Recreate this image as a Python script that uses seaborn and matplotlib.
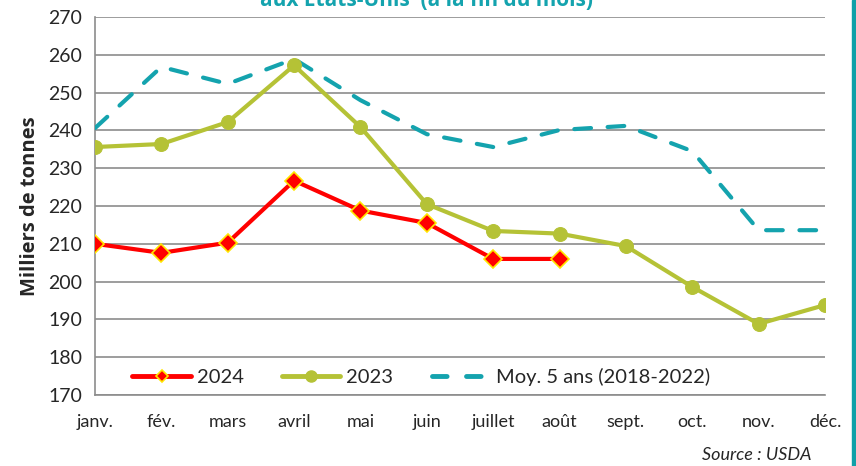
#!/usr/bin/env python3
"""Stocks fin de mois aux Etats-Unis: 2024 vs 2023 vs moyenne 5 ans."""

import pandas as pd
import numpy as np
import matplotlib
matplotlib.use('Agg')
import matplotlib.pyplot as plt
from matplotlib.lines import Line2D
import seaborn as sns

months = ['janv.', 'fév.', 'mars', 'avril', 'mai', 'juin',
          'juillet', 'août', 'sept.', 'oct.', 'nov.', 'déc.']
stocks_2024 = [210.0, 207.6, 210.3, 226.7, 218.8, 215.5, 206.0, 206.0]
stocks_2023 = [235.6, 236.4, 242.2, 257.2, 240.9, 220.5, 213.4, 212.7,
               209.4, 198.6, 188.8, 193.8]
moy_5ans = [240.6, 256.8, 252.3, 258.9, 248.0, 239.0, 235.6, 240.1,
            241.2, 234.5, 213.6, 213.6]

sns.set_style('white')
plt.rcParams['font.family'] = ['Lato', 'DejaVu Sans']

df24 = pd.DataFrame({'x': np.arange(len(stocks_2024)), 'y': stocks_2024})
df23 = pd.DataFrame({'x': np.arange(len(stocks_2023)), 'y': stocks_2023})
dfmoy = pd.DataFrame({'x': np.arange(len(moy_5ans)), 'y': moy_5ans})

fig = plt.figure(figsize=(8.56, 4.66), dpi=100)
ax = fig.add_axes([95 / 856, 1 - 395 / 466, 730 / 856, 378 / 466])

teal = '#14A3AE'
green = '#B5C236'
red = '#FF0000'
yellow = '#FFE600'

sns.lineplot(data=dfmoy, x='x', y='y', ax=ax, color=teal, lw=3, zorder=3)
ax.lines[-1].set_dashes([4, 4])
ax.lines[-1].set_dash_capstyle('round')
sns.lineplot(data=df23, x='x', y='y', ax=ax, color=green, lw=3,
             marker='o', markersize=10, markeredgecolor=green, zorder=4)
sns.lineplot(data=df24, x='x', y='y', ax=ax, color=red, lw=3,
             marker='D', markersize=9, markeredgecolor=yellow,
             markeredgewidth=1.2, zorder=5)

ax.set_xlim(0, 11)
ax.set_ylim(170, 270)
ax.set_yticks(range(170, 271, 10))
ax.set_xticks(range(12))
ax.set_xticklabels(months, fontsize=13)
ax.tick_params(axis='y', labelsize=14, length=5, color='#8C8C8C', pad=4)
ax.tick_params(axis='x', length=5, color='#8C8C8C', pad=9)
ax.yaxis.grid(True, color='#8C8C8C', lw=1.2)
ax.set_axisbelow(True)
for side in ['top', 'right']:
    ax.spines[side].set_visible(False)
for side in ['left', 'bottom']:
    ax.spines[side].set_color('#8C8C8C')
    ax.spines[side].set_linewidth(1.2)
ax.set_xlabel('')
ax.set_ylabel('Milliers de tonnes', fontsize=14.5, fontweight='bold',
              family=['Open Sans', 'DejaVu Sans'], labelpad=6)

handles = [
    Line2D([], [], color=red, lw=3.5, marker='D', markersize=6,
           markeredgecolor=yellow, markeredgewidth=1.2),
    Line2D([], [], color=green, lw=3.5, marker='o', markersize=8,
           markeredgecolor=green),
    Line2D([], [], color=teal, lw=3.5, dashes=[3, 4],
           dash_capstyle='round'),
]
ax.legend(handles, ['2024', '2023', 'Moy. 5 ans (2018-2022)'],
          loc='center', bbox_to_anchor=(0.447, 0.048), ncol=3, frameon=False,
          fontsize=14.5, handlelength=2.9, columnspacing=1.9, handletextpad=0.3)

fig.text(427 / 856, 1 - 6 / 466, 'aux Etats-Unis  (à la fin du mois)',
         ha='center', va='baseline', fontsize=15, fontweight='bold', color=teal,
         family=['Open Sans', 'DejaVu Sans'])
fig.text(812 / 856, 1 - 455 / 466, 'Source : USDA', ha='right', va='center',
         fontsize=13, style='italic')
fig.add_artist(plt.Rectangle((852 / 856, 0), 4 / 856, 1, color='#0FA0A8',
                             transform=fig.transFigure))

plt.savefig('out.png', dpi=100)
print("Saved: out.png")
